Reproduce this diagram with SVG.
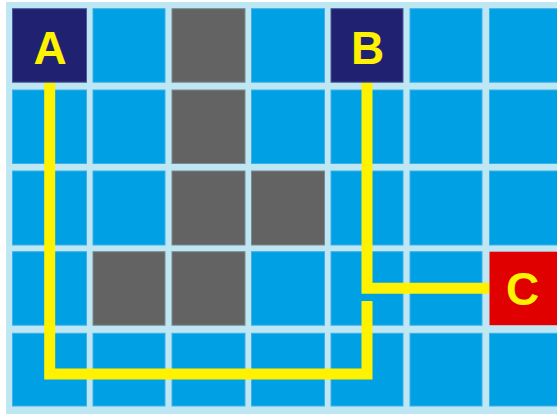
<svg xmlns="http://www.w3.org/2000/svg" width="557" height="414" viewBox="0 0 557 414">
<style>
.c{fill:#00A1E4;stroke:#3DB1E8;stroke-width:1}
.g{fill:#636363;stroke:#7a8a92;stroke-width:1}
.n{fill:#202170;stroke:#4a5a9a;stroke-width:1}
.r{fill:#E00000}
.t{font-family:"Liberation Sans",Arial,sans-serif;font-weight:bold;font-size:46px;fill:#FFF200;text-anchor:middle}
.w{fill:none;stroke:#FFF200;stroke-width:11;stroke-linejoin:miter;stroke-linecap:butt}
</style>
<rect x="0" y="0" width="557" height="414" fill="#ffffff"/>
<rect x="6" y="2" width="551" height="412" fill="#BEE6F3"/>
<g id="grid">
<!-- row 1 -->
<rect class="c" x="93" y="8.7" width="72" height="73.5"/>
<rect class="g" x="172" y="8.7" width="73" height="73.5"/>
<rect class="c" x="251.5" y="8.7" width="73" height="73.5"/>
<rect class="c" x="410" y="8.7" width="72" height="73.5"/>
<rect class="c" x="489.5" y="8.7" width="73" height="73.5"/>
<!-- row 2 -->
<rect class="c" x="12.5" y="90" width="74" height="73.5"/>
<rect class="c" x="93" y="90" width="72" height="73.5"/>
<rect class="g" x="172" y="90" width="73" height="73.5"/>
<rect class="c" x="251.5" y="90" width="73" height="73.5"/>
<rect class="c" x="331" y="90" width="72" height="73.5"/>
<rect class="c" x="410" y="90" width="72" height="73.5"/>
<rect class="c" x="489.5" y="90" width="73" height="73.5"/>
<!-- row 3 -->
<rect class="c" x="12.5" y="171" width="74" height="74"/>
<rect class="c" x="93" y="171" width="72" height="74"/>
<rect class="g" x="172" y="171" width="73" height="74"/>
<rect class="g" x="251.5" y="171" width="73" height="74"/>
<rect class="c" x="331" y="171" width="72" height="74"/>
<rect class="c" x="410" y="171" width="72" height="74"/>
<rect class="c" x="489.5" y="171" width="73" height="74"/>
<!-- row 4 -->
<rect class="c" x="12.5" y="251.7" width="74" height="73.5"/>
<rect class="g" x="93" y="251.7" width="72" height="73.5"/>
<rect class="g" x="172" y="251.7" width="73" height="73.5"/>
<rect class="c" x="251.5" y="251.7" width="73" height="73.5"/>
<rect class="c" x="331" y="251.7" width="72" height="73.5"/>
<rect class="c" x="410" y="251.7" width="72" height="73.5"/>
<!-- row 5 -->
<rect class="c" x="12.5" y="333.3" width="74" height="72.7"/>
<rect class="c" x="93" y="333.3" width="72" height="72.7"/>
<rect class="c" x="172" y="333.3" width="73" height="72.7"/>
<rect class="c" x="251.5" y="333.3" width="73" height="72.7"/>
<rect class="c" x="331" y="333.3" width="72" height="72.7"/>
<rect class="c" x="410" y="333.3" width="72" height="72.7"/>
<rect class="c" x="489.5" y="333.3" width="73" height="72.7"/>
</g>
<g id="connectors">
<path class="w" d="M49.7,82.5 V374 H367 V301"/>
<path class="w" d="M367,82.5 V288.3 H489.5"/>
</g>
<g id="node-A">
<rect class="n" x="12.5" y="8.7" width="74" height="73.5"/>
<text class="t" x="50" y="64">A</text>
</g>
<g id="node-B">
<rect class="n" x="331" y="8.7" width="72" height="73.5"/>
<text class="t" x="367.5" y="63.5">B</text>
</g>
<g id="node-C">
<rect class="r" x="489.5" y="251.7" width="73" height="73.5"/>
<text class="t" x="522.5" y="305">C</text>
</g>
</svg>
